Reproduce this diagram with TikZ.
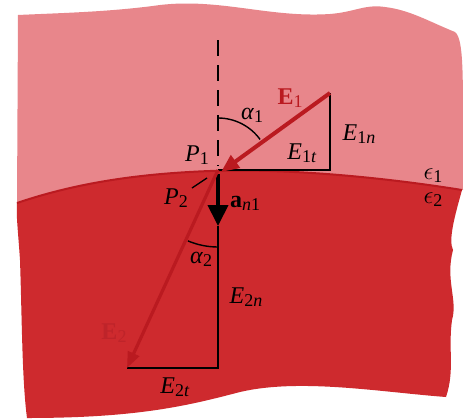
\documentclass[tikz,border=0pt]{standalone}
\usepackage{fontspec}
\setmainfont{Liberation Serif}
\usetikzlibrary{arrows.meta}
\definecolor{lite}{RGB}{232,134,139}
\definecolor{dark}{RGB}{206,42,46}
\definecolor{vec}{RGB}{186,26,32}
\definecolor{vecdim}{RGB}{190,36,42}
\newcommand{\sbs}[1]{\raisebox{-0.25ex}{\fontsize{18}{18}\selectfont #1}}
\begin{document}
\begin{tikzpicture}[x=1pt,y=-1pt,
  lbl/.style={font=\fontsize{24}{25}\selectfont, inner sep=1pt},
  blk/.style={black, line width=2.4pt},
  redvec/.style={vec, line width=4pt, -{Triangle[length=18pt,width=15pt]}}]
\useasboundingbox (0,0) rectangle (468,418);
\fill[white] (0,0) rectangle (468,418);
% upper medium
\fill[lite] (18,15) .. controls (60,13) and (110,12) .. (160,5)
  .. controls (220,-2) and (270,18) .. (330,14)
  .. controls (355,12) and (365,4) .. (385,7)
  .. controls (410,10) and (430,22) .. (455,32)
  .. controls (466,40) and (462,100) .. (463,190)
  .. controls (400,180) and (300,168) .. (210,171)
  .. controls (130,174) and (70,185) .. (17,203) -- cycle;
% lower medium
\fill[dark] (17,203) .. controls (70,185) and (130,174) .. (210,171)
  .. controls (300,168) and (400,180) .. (462,190)
  .. controls (455,215) and (448,240) .. (453,250)
  .. controls (445,280) and (458,300) .. (452,320)
  .. controls (448,350) and (455,370) .. (446,397)
  .. controls (380,392) and (300,378) .. (240,392)
  .. controls (190,405) and (140,418) .. (27,418)
  .. controls (22,380) and (22,320) .. (20,260)
  .. controls (18,230) and (16,215) .. (17,203) -- cycle;
% interface line
\draw[vec, line width=2pt] (17,203) .. controls (70,185) and (130,174) .. (210,171)
  .. controls (300,168) and (400,180) .. (462,190);
% coordinates
\coordinate (P) at (218,170);
\coordinate (Etail) at (330,93);
\coordinate (C1) at (330,170);
\coordinate (Ntop) at (218,40);
\coordinate (Nbot) at (218,166);
\coordinate (Astart) at (218,174);
\coordinate (Atip) at (218,226);
\coordinate (C2) at (218,368);
\coordinate (E2tip) at (127,368);
% dashed normal
\draw[black, line width=2pt, dash pattern=on 16pt off 9pt] (Ntop) -- (Nbot);
% triangle 1
\draw[blk] (Etail) -- (C1) -- (P);
% triangle 2
\draw[blk] (Atip) -- (C2) -- (E2tip);
% a_n1 arrow
\draw[black, line width=4pt, -{Triangle[length=21pt,width=20pt]}] (Astart) -- (Atip);
% E1 vector
\draw[redvec] (Etail) -- ([xshift=3pt,yshift=-2pt]P);
% E2 vector
\draw[vec, line width=3.2pt, -{Triangle[length=16pt,width=12pt]}] (P) -- (E2tip);
% angles
\draw[black, line width=1.4pt] (P) ++(-90:52) arc[start angle=-90, end angle=-36, radius=52];
\draw[black, line width=1.4pt] (P) ++(90:77) arc[start angle=90, end angle=113, radius=77];
% P2 leader
\coordinate (L1) at (192,188);
\coordinate (L2) at (207,178);
\draw[black, line width=1.3pt] (L1) -- (L2);
% labels
\node[lbl, text=vec] (lE1) at (290,98) {\textbf{E}\sbs{1}};
\node[lbl] (lE1n) at (359,134) {\textit{E}\sbs{1\textit{n}}};
\node[lbl] (lE1t) at (302,153) {\textit{E}\sbs{1\textit{t}}};
\node[lbl] (la1) at (252,115) {\textit{α}\sbs{1}};
\node[lbl] (lP1) at (197,155) {\textit{P}\sbs{1}};
\node[lbl] (lP2) at (176,198) {\textit{P}\sbs{2}};
\node[lbl] (lan) at (245,203) {\textbf{a}\sbs{\textit{n}1}};
\node[lbl] (la2) at (201,259) {\textit{α}\sbs{2}};
\node[lbl] (lE2n) at (246,297) {\textit{E}\sbs{2\textit{n}}};
\node[lbl] (lE2t) at (175,387) {\textit{E}\sbs{2\textit{t}}};
\node[lbl, text=vecdim] (lE2) at (114,333) {\textbf{E}\sbs{2}};
\node[lbl] (le1) at (433,176) {$\epsilon$\sbs{1}};
\node[lbl] (le2) at (433,200) {$\epsilon$\sbs{2}};
\end{tikzpicture}
\end{document}
